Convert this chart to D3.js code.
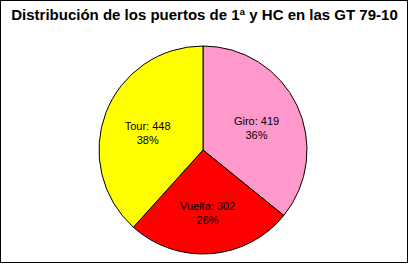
<!DOCTYPE html>
<html>
<head>
<meta charset="utf-8">
<script src="https://cdn.jsdelivr.net/npm/d3@7"></script>
<style>
  html, body { margin: 0; padding: 0; background: #fff; }
  svg { display: block; }
  text { font-family: "Liberation Sans", Arial, sans-serif; }
</style>
</head>
<body>
<svg id="chart" width="409" height="264"></svg>
<script>
// Mountain passes (1st category and HC) per Grand Tour, 1979-2010
const races = ["Giro", "Vuelta", "Tour"];
const passes = [419, 302, 448];
const sliceColors = ["#FF99CC", "#FF0000", "#FFFF00"];
const title = "Distribución de los puertos de 1ª y HC en las GT 79-10";

const W = 409, H = 264;
const cx = 203, cy = 150, radius = 104;

const svg = d3.select("#chart");

// chart frame
svg.append("rect")
  .attr("x", 0.5).attr("y", 0.5)
  .attr("width", W - 2).attr("height", H - 2)
  .attr("fill", "#fff").attr("stroke", "#000").attr("stroke-width", 1);

svg.append("text")
  .attr("x", W / 2).attr("y", 20)
  .attr("text-anchor", "middle")
  .attr("font-size", 15).attr("font-weight", "bold")
  .text(title);

const data = races.map((r, i) => ({ race: r, value: passes[i], color: sliceColors[i] }));
const total = d3.sum(passes);

const pie = d3.pie().value(d => d.value).sort(null);
const arcs = pie(data);
const arc = d3.arc().innerRadius(0).outerRadius(radius);
const labelArc = d3.arc().innerRadius(radius * 0.57).outerRadius(radius * 0.57);

const g = svg.append("g").attr("transform", `translate(${cx},${cy})`);

g.selectAll("path.slice")
  .data(arcs)
  .join("path")
  .attr("class", "slice")
  .attr("d", arc)
  .attr("fill", d => d.data.color)
  .attr("stroke", "#000")
  .attr("stroke-width", 1);

const labels = g.selectAll("text.lbl")
  .data(arcs)
  .join("text")
  .attr("class", "lbl")
  .attr("text-anchor", "middle")
  .attr("font-size", 11)
  .attr("fill", "#000")
  .attr("transform", d => {
    const [x, y] = labelArc.centroid(d);
    return `translate(${x},${y})`;
  });

labels.append("tspan")
  .attr("x", 0).attr("y", 1)
  .text(d => `${d.data.race}: ${d.data.value}`);
labels.append("tspan")
  .attr("x", 0).attr("y", 15)
  .text(d => `${Math.round(d.data.value / total * 100)}%`);
</script>
</body>
</html>
